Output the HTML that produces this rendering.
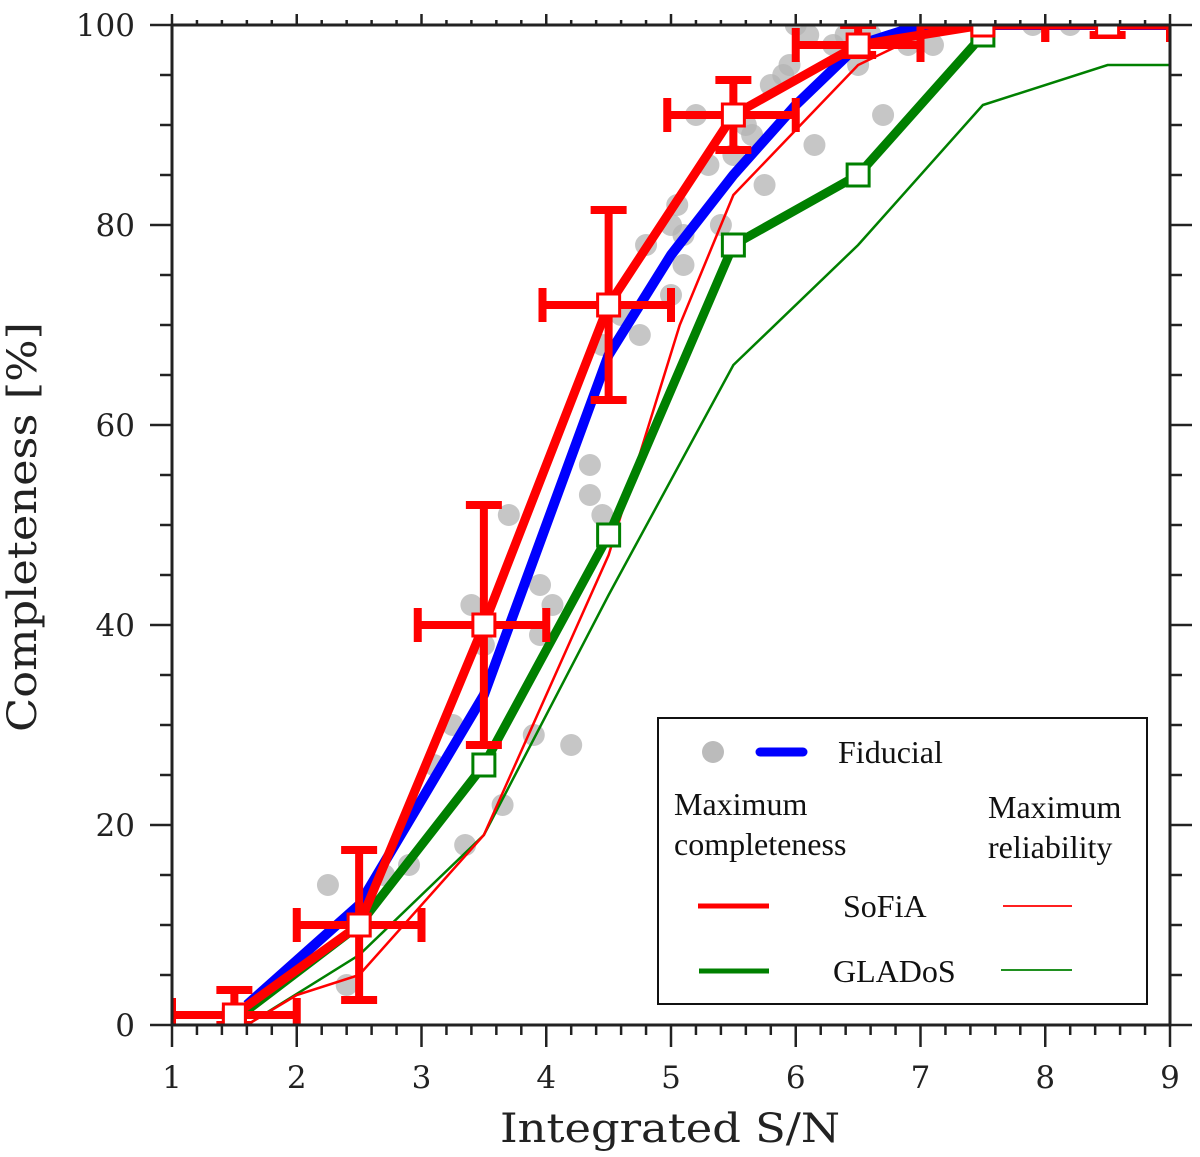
<!DOCTYPE html>
<html><head><meta charset="utf-8">
<style>
html,body{margin:0;padding:0;background:#fff;}
svg{display:block;}
.tick{font-family:"DejaVu Serif","Liberation Serif",serif;font-size:31px;fill:#222;}
.alab{font-family:"DejaVu Serif","Liberation Serif",serif;font-size:40px;fill:#222;}
.leg{font-family:"Liberation Serif","DejaVu Serif",serif;font-size:32px;fill:#111;}
</style></head>
<body>
<svg id="chart" width="1200" height="1157" viewBox="0 0 1200 1157">
<defs><clipPath id="plotclip"><rect x="172" y="25" width="998" height="1000"/></clipPath></defs>
<g id="plot" clip-path="url(#plotclip)"></g>
<g id="axes"></g>
</svg>
<script>
// ---- data ----
const dotsX = [2.25,2.4,2.9,3.35,3.65,3.9,4.2,3.4,3.5,3.7,3.95,4.05,3.95,4.35,4.35,4.45,4.45,4.6,4.75,4.8,5.0,5.0,5.1,5.05,5.1,5.2,5.3,5.4,5.5,5.6,5.65,5.75,5.8,5.9,5.95,6.15,6.0,6.1,6.3,6.5,6.7,6.6,6.9,7.1,7.9,8.2,6.4,3.1,3.25,2.7];
const dotsY = [14,4,16,18,22,29,28,42,38,51,44,42,39,56,53,51,68,71,69,78,73,80,76,82,79,91,86,80,87,90,89,84,94,95,96,88,100,99,98,96,91,99,98,98,100,100,99,26,30,15];
const fidX = [1.6,2.5,3.5,4.5,5.0,5.5,6.0,6.5,7.0,9.0];
const fidY = [2,12,33,67,77,85,92,98,100,100];
const sofiaX = [1.5,2.5,3.5,4.5,5.5,6.5,7.5,8.5,9.0];
const sofiaY = [1,10,40,72,91,98,100,100,100];
const sofiaXlo = [1.0,2.0,2.97,3.97,4.97,6.0,7.0,8.0];
const sofiaXhi = [2.0,3.0,4.0,5.0,6.0,7.0,8.0,9.0];
const sofiaYlo = [0,2.5,28,62.5,87.5,97,100,99];
const sofiaYhi = [3.5,17.5,52,81.5,94.5,100,100,100];
const sofiaRelX = [1.6,2.0,2.5,3.5,4.5,5.07,5.5,6.5,7.0,7.5,9.0];
const sofiaRelY = [0,3,5,19,47,70,83,96,99,100,100];
const gladX = [1.5,2.5,3.5,4.5,5.5,6.5,7.5];
const gladY = [0.5,10,26,49,78,85,99];
const gladRelX = [1.6,2.5,3.5,4.5,5.5,6.5,7.5,8.5,9.0];
const gladRelY = [0,7,19,43,66,78,92,96,96];
const xTicks = [1,2,3,4,5,6,7,8,9];
const yTicks = [0,20,40,60,80,100];

// ---- scales ----
const X0=172,X1=1170,Y0=1025,Y1=25;
const sx=v=>X0+(v-1)*(X1-X0)/8;
const sy=v=>Y0-v*(Y0-Y1)/100;
const NS='http://www.w3.org/2000/svg';
function mk(tag,attrs,parent){const e=document.createElementNS(NS,tag);for(const k in attrs)e.setAttribute(k,attrs[k]);parent.appendChild(e);return e;}
const plot=document.getElementById('plot');
const axes=document.getElementById('axes');
const ptsStr=(xs,ys)=>xs.map((x,i)=>sx(x)+','+sy(ys[i])).join(' ');

dotsX.forEach((x,i)=>{
  const c=mk('circle',{cx:sx(x),cy:sy(dotsY[i]),r:11,fill:'#b3b3b3','fill-opacity':0.75},plot);
  
  
});
let l=mk('polyline',{points:ptsStr(gladRelX,gladRelY),fill:'none',stroke:'#008000','stroke-width':2.5},plot);


l=mk('polyline',{points:ptsStr(sofiaRelX,sofiaRelY),fill:'none',stroke:'#ff0000','stroke-width':2.5},plot);


l=mk('polyline',{points:ptsStr(fidX,fidY),fill:'none',stroke:'#0000ff','stroke-width':10,'stroke-linejoin':'round'},plot);


l=mk('polyline',{points:ptsStr(gladX,gladY),fill:'none',stroke:'#008000','stroke-width':9},plot);


l=mk('polyline',{points:ptsStr(sofiaX,sofiaY),fill:'none',stroke:'#ff0000','stroke-width':9},plot);


sofiaXlo.forEach((lo,i)=>{
  const g=mk('g',{stroke:'#ff0000','stroke-width':8,fill:'none'},plot);
  
  
  const y=sy(sofiaY[i]),x=sx(sofiaX[i]);
  mk('line',{x1:sx(lo),y1:y,x2:sx(sofiaXhi[i]),y2:y},g);
  mk('line',{x1:sx(lo),y1:y-17,x2:sx(lo),y2:y+17},g);
  mk('line',{x1:sx(sofiaXhi[i]),y1:y-17,x2:sx(sofiaXhi[i]),y2:y+17},g);
  mk('line',{x1:x,y1:sy(sofiaYlo[i]),x2:x,y2:sy(sofiaYhi[i])},g);
  mk('line',{x1:x-18,y1:sy(sofiaYlo[i]),x2:x+18,y2:sy(sofiaYlo[i])},g);
  mk('line',{x1:x-18,y1:sy(sofiaYhi[i]),x2:x+18,y2:sy(sofiaYhi[i])},g);
});
gladX.forEach((x,i)=>{
  const r=mk('rect',{x:sx(x)-11,y:sy(gladY[i])-11,width:22,height:22,fill:'#fff',stroke:'#008000','stroke-width':3},plot);
  
  
});
sofiaXlo.forEach((lo,i)=>{
  const r=mk('rect',{x:sx(sofiaX[i])-11,y:sy(sofiaY[i])-11,width:22,height:22,fill:'#fff',stroke:'#ff0000','stroke-width':3},plot);
  
  
});

let f=mk('rect',{x:X0,y:Y1,width:X1-X0,height:Y0-Y1,fill:'none',stroke:'#222','stroke-width':3},axes);


for(let v=1;v<=9.001;v+=0.2){
  const major=Math.abs(v-Math.round(v))<1e-6;const len=major?22:10;const x=sx(v);
  mk('line',{x1:x,y1:Y0,x2:x,y2:Y0+len,stroke:'#222','stroke-width':2.5},axes);
  mk('line',{x1:x,y1:Y1,x2:x,y2:Y1-len*0.5,stroke:'#222','stroke-width':2.5},axes);
}
for(let v=0;v<=100.001;v+=5){
  const major=v%20===0;const len=major?22:12;const y=sy(v);
  mk('line',{x1:X0,y1:y,x2:X0-len,y2:y,stroke:'#222','stroke-width':2.5},axes);
  mk('line',{x1:X1,y1:y,x2:X1+len,y2:y,stroke:'#222','stroke-width':2.5},axes);
}
xTicks.forEach(v=>{
  const t=mk('text',{x:sx(v),y:1088,'text-anchor':'middle',class:'tick'},axes);
  t.textContent=v;
  
  
});
yTicks.forEach(v=>{
  const t=mk('text',{x:135,y:sy(v)+11,'text-anchor':'end',class:'tick'},axes);
  t.textContent=v;
  
  
});
</script>
<svg width="1200" height="1157" style="position:absolute;left:0;top:0">
<text class="alab" x="670" y="1142" text-anchor="middle" textLength="340" lengthAdjust="spacingAndGlyphs">Integrated S/N</text>
<text class="alab" x="36" y="527" text-anchor="middle" textLength="410" lengthAdjust="spacingAndGlyphs" transform="rotate(-90 36 527)">Completeness [%]</text>
<g>
<rect x="658" y="718" width="489" height="286" fill="#fff" stroke="#111" stroke-width="2"/>
<circle cx="713" cy="752" r="11" fill="#bbb"/>
<line x1="760" y1="752" x2="803" y2="752" stroke="#0000ff" stroke-width="9" stroke-linecap="round"/>
<text class="leg" x="838" y="763">Fiducial</text>
<text class="leg" x="674" y="815">Maximum</text>
<text class="leg" x="674" y="855">completeness</text>
<text class="leg" x="988" y="818">Maximum</text>
<text class="leg" x="988" y="858">reliability</text>
<line x1="698" y1="906" x2="769" y2="906" stroke="#ff0000" stroke-width="5"/>
<text class="leg" x="843" y="917">SoFiA</text>
<line x1="1003" y1="906" x2="1072" y2="906" stroke="#ff0000" stroke-width="1.8"/>
<line x1="699" y1="971" x2="769" y2="971" stroke="#008000" stroke-width="5"/>
<text class="leg" x="833" y="982">GLADoS</text>
<line x1="1001" y1="970" x2="1072" y2="970" stroke="#008000" stroke-width="1.8"/>
</g>
</svg>
</body></html>
